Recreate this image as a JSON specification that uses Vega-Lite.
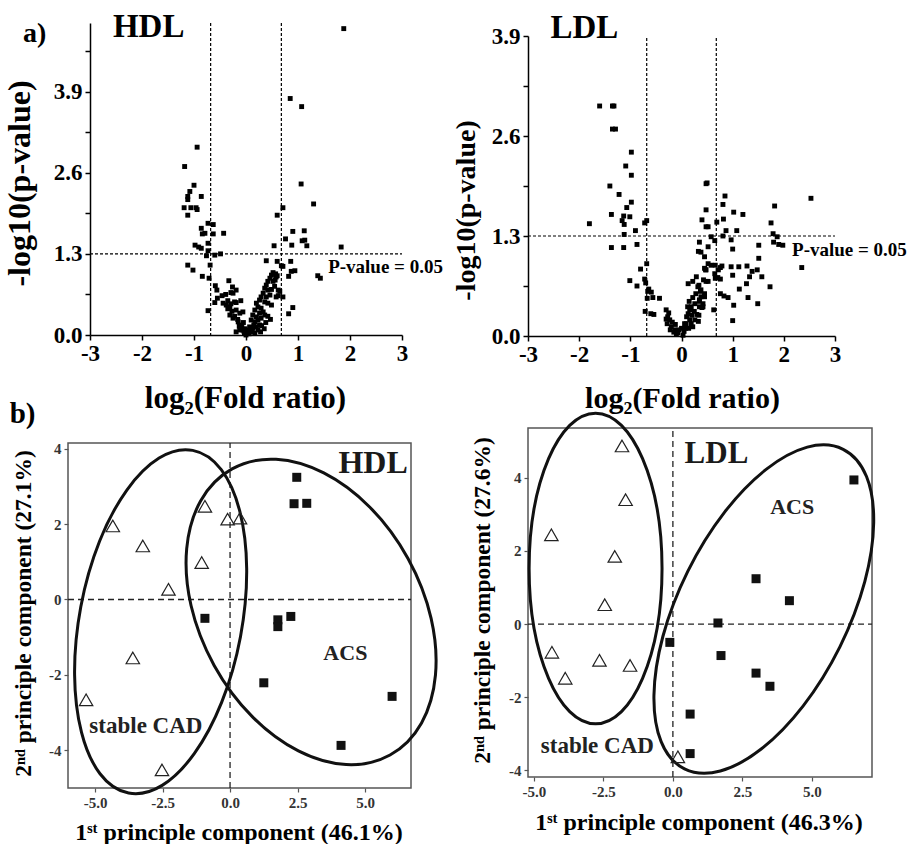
{
  "$schema": "https://vega.github.io/schema/vega-lite/v6.json",
  "padding": {"left": 3, "top": 10, "right": 0, "bottom": 0},
  "columns": 2,
  "align": "none",
  "bounds": "flush",
  "spacing": {"row": 108, "column": 126},
  "config": {
    "view": {"stroke": null},
    "font": "Liberation Serif",
    "axis": {"grid": false, "labelFont": "Liberation Serif", "titleFont": "Liberation Serif", "labelFontWeight": "bold", "titleFontWeight": "bold", "labelColor": "black", "titleColor": "black", "domainColor": "black", "tickColor": "black", "labelOverlap": false, "labelFlush": false},
    "text": {"font": "Liberation Serif", "fontWeight": "bold", "color": "black"}
  },
  "datasets": {
    "hdlV": [
      {"x":1.88,"y":4.91},{"x":0.85,"y":3.79},{"x":1.07,"y":3.66},{"x":-0.94,"y":3.01},{"x":-1.18,"y":2.70},{"x":1.06,"y":2.42},{"x":-1.0,"y":2.40},{"x":-1.08,"y":2.30},{"x":-1.12,"y":2.22},{"x":-1.12,"y":2.17},{"x":-0.86,"y":2.22},{"x":1.30,"y":2.10},{"x":-1.19,"y":2.04},{"x":-1.06,"y":2.04},{"x":-0.96,"y":2.04},{"x":-0.94,"y":2.01},{"x":-1.12,"y":1.92},{"x":0.71,"y":2.04},{"x":0.60,"y":1.92},{"x":-0.73,"y":1.79},{"x":-0.63,"y":1.77},{"x":-0.86,"y":1.71},{"x":-0.84,"y":1.62},{"x":-0.79,"y":1.63},{"x":-0.63,"y":1.62},{"x":-0.43,"y":1.63},{"x":0.90,"y":1.66},{"x":1.12,"y":1.67},{"x":0.76,"y":1.54},{"x":1.08,"y":1.51},{"x":1.13,"y":1.52},{"x":0.88,"y":1.44},{"x":1.17,"y":1.43},{"x":0.54,"y":1.43},{"x":1.83,"y":1.41},{"x":-0.73,"y":1.47},{"x":-0.98,"y":1.44},{"x":-0.91,"y":1.41},{"x":-0.86,"y":1.39},{"x":-0.73,"y":1.35},{"x":-0.49,"y":1.30},{"x":-0.60,"y":1.28},{"x":-0.76,"y":1.27},{"x":-1.12,"y":1.12},{"x":-1.02,"y":1.04},{"x":-0.69,"y":1.12},{"x":-0.84,"y":0.94},{"x":-0.71,"y":0.91},{"x":-0.33,"y":0.87},{"x":-0.59,"y":0.79},{"x":-0.56,"y":0.72},{"x":-0.55,"y":0.59},{"x":-0.60,"y":0.52},{"x":-0.73,"y":0.39},{"x":0.39,"y":1.19},{"x":0.60,"y":1.18},{"x":0.71,"y":1.10},{"x":0.68,"y":1.11},{"x":0.86,"y":1.18},{"x":0.87,"y":1.02},{"x":0.94,"y":1.03},{"x":0.82,"y":0.94},{"x":1.38,"y":0.95},{"x":1.43,"y":0.91},{"x":0.62,"y":0.63},{"x":0.90,"y":0.44},{"x":0.82,"y":0.34},
      {"x":-0.44,"y":0.51},{"x":-0.38,"y":0.48},{"x":-0.31,"y":0.45},{"x":-0.25,"y":0.67},{"x":-0.22,"y":0.53},{"x":-0.19,"y":0.40},{"x":-0.12,"y":0.35},{"x":-0.06,"y":0.37},{"x":-0.31,"y":0.32},{"x":-0.25,"y":0.27},{"x":-0.15,"y":0.21},{"x":-0.09,"y":0.16},{"x":-0.06,"y":0.08},{"x":-0.12,"y":0.08},{"x":-0.19,"y":0.05},{"x":-0.03,"y":0.03},{"x":0.0,"y":0.0},{"x":-0.35,"y":0.55},{"x":-0.29,"y":0.50},{"x":-0.19,"y":0.52},{"x":-0.10,"y":0.55},{"x":-0.46,"y":0.63},{"x":-0.39,"y":0.65},{"x":-0.29,"y":0.68},{"x":-0.26,"y":0.77},{"x":-0.19,"y":0.72},{"x":-0.22,"y":0.30},{"x":-0.16,"y":0.25},{"x":-0.08,"y":0.12},{"x":-0.04,"y":0.06},{"x":-0.02,"y":0.10},{"x":-0.13,"y":0.14},{"x":-0.27,"y":0.38},{"x":-0.35,"y":0.42},{"x":-0.05,"y":0.20},
      {"x":0.52,"y":1.00},{"x":0.49,"y":0.96},{"x":0.46,"y":0.91},{"x":0.42,"y":0.86},{"x":0.39,"y":0.80},{"x":0.36,"y":0.75},{"x":0.42,"y":0.72},{"x":0.49,"y":0.73},{"x":0.55,"y":0.78},{"x":0.52,"y":0.86},{"x":0.33,"y":0.67},{"x":0.29,"y":0.61},{"x":0.39,"y":0.61},{"x":0.46,"y":0.64},{"x":0.26,"y":0.56},{"x":0.20,"y":0.51},{"x":0.36,"y":0.53},{"x":0.42,"y":0.51},{"x":0.49,"y":0.48},{"x":0.23,"y":0.45},{"x":0.17,"y":0.40},{"x":0.29,"y":0.43},{"x":0.13,"y":0.32},{"x":0.20,"y":0.29},{"x":0.26,"y":0.35},{"x":0.33,"y":0.37},{"x":0.10,"y":0.24},{"x":0.17,"y":0.21},{"x":0.23,"y":0.24},{"x":0.29,"y":0.27},{"x":0.36,"y":0.32},{"x":0.07,"y":0.13},{"x":0.13,"y":0.11},{"x":0.20,"y":0.13},{"x":0.26,"y":0.16},{"x":0.10,"y":0.05},{"x":0.23,"y":0.08},{"x":0.17,"y":0.03},{"x":0.04,"y":0.08},{"x":0.47,"y":0.25},{"x":0.42,"y":0.30},{"x":0.38,"y":0.20},{"x":0.30,"y":0.15},{"x":0.35,"y":0.10},{"x":0.28,"y":0.05},{"x":0.57,"y":0.98},{"x":0.58,"y":0.93},{"x":0.56,"y":0.88},{"x":0.60,"y":0.95},{"x":0.62,"y":0.72},{"x":0.65,"y":0.70},{"x":0.58,"y":0.61},{"x":0.71,"y":0.61},{"x":0.06,"y":0.02},{"x":0.12,"y":0.06},{"x":0.15,"y":0.16},{"x":0.02,"y":0.04}
    ],
    "ldlV": [
      {"x":-1.60,"y":2.99},{"x":-1.35,"y":2.99},{"x":-1.32,"y":2.99},{"x":-1.35,"y":2.69},{"x":-1.29,"y":2.69},{"x":-0.98,"y":2.39},{"x":-1.09,"y":2.21},{"x":-0.98,"y":2.09},{"x":-1.40,"y":1.95},{"x":-1.22,"y":1.84},{"x":-0.98,"y":1.74},{"x":-1.07,"y":1.67},{"x":-1.37,"y":1.58},{"x":-1.13,"y":1.56},{"x":-1.01,"y":1.55},{"x":-1.80,"y":1.46},{"x":-1.16,"y":1.50},{"x":-1.12,"y":1.45},{"x":-0.68,"y":1.50},{"x":-0.72,"y":1.47},{"x":-0.90,"y":1.37},{"x":-1.12,"y":1.32},{"x":-1.37,"y":1.15},{"x":-1.13,"y":1.15},{"x":-0.87,"y":1.19},{"x":-0.68,"y":0.94},{"x":-0.80,"y":0.87},{"x":-1.01,"y":0.72},{"x":-0.72,"y":0.74},{"x":-0.70,"y":0.69},{"x":-0.87,"y":0.65},{"x":-0.64,"y":0.61},{"x":-0.66,"y":0.58},{"x":-0.59,"y":0.57},{"x":-0.56,"y":0.50},{"x":-0.67,"y":0.49},{"x":-0.43,"y":0.49},{"x":-0.71,"y":0.32},{"x":-0.60,"y":0.29},{"x":-0.54,"y":0.28},
      {"x":-0.30,"y":0.34},{"x":-0.27,"y":0.25},{"x":-0.23,"y":0.21},{"x":-0.28,"y":0.16},{"x":-0.20,"y":0.12},{"x":-0.13,"y":0.08},{"x":-0.07,"y":0.04},{"x":0.03,"y":0.01},{"x":0.0,"y":0.10},{"x":0.06,"y":0.16},{"x":-0.25,"y":0.30},{"x":-0.18,"y":0.18},{"x":-0.15,"y":0.05},{"x":-0.10,"y":0.02},{"x":-0.05,"y":0.08},{"x":-0.30,"y":0.22},{"x":-0.22,"y":0.08},{"x":0.05,"y":0.06},{"x":0.08,"y":0.10},{"x":-0.12,"y":0.15},
      {"x":0.13,"y":0.68},{"x":0.22,"y":0.71},{"x":0.29,"y":0.77},{"x":0.32,"y":0.64},{"x":0.38,"y":0.60},{"x":0.45,"y":0.51},{"x":0.35,"y":0.47},{"x":0.26,"y":0.42},{"x":0.19,"y":0.38},{"x":0.16,"y":0.34},{"x":0.13,"y":0.29},{"x":0.20,"y":0.27},{"x":0.16,"y":0.21},{"x":0.09,"y":0.16},{"x":0.19,"y":0.16},{"x":0.26,"y":0.21},{"x":0.35,"y":0.38},{"x":0.42,"y":0.38},{"x":0.48,"y":0.71},{"x":0.48,"y":0.86},{"x":0.45,"y":1.03},{"x":0.38,"y":1.09},{"x":0.35,"y":1.22},{"x":0.48,"y":1.42},{"x":0.40,"y":1.51},{"x":0.48,"y":1.64},{"x":0.48,"y":1.98},{"x":0.15,"y":0.45},{"x":0.22,"y":0.50},{"x":0.28,"y":0.55},{"x":0.12,"y":0.38},{"x":0.25,"y":0.32},{"x":0.30,"y":0.28},{"x":0.10,"y":0.25},{"x":0.22,"y":0.12},{"x":0.14,"y":0.10},
      {"x":0.50,"y":1.99},{"x":0.85,"y":1.82},{"x":0.81,"y":1.71},{"x":1.82,"y":1.69},{"x":2.53,"y":1.79},{"x":1.02,"y":1.61},{"x":1.20,"y":1.58},{"x":0.69,"y":1.48},{"x":0.82,"y":1.52},{"x":1.75,"y":1.47},{"x":0.52,"y":1.42},{"x":0.87,"y":1.37},{"x":1.08,"y":1.37},{"x":1.79,"y":1.33},{"x":1.87,"y":1.29},{"x":0.58,"y":1.29},{"x":0.81,"y":1.30},{"x":0.65,"y":1.24},{"x":0.97,"y":1.25},{"x":1.80,"y":1.22},{"x":1.90,"y":1.19},{"x":1.98,"y":1.18},{"x":1.51,"y":1.18},{"x":1.0,"y":1.13},{"x":0.52,"y":1.16},{"x":0.33,"y":1.10},{"x":1.51,"y":1.01},{"x":0.52,"y":0.94},{"x":0.58,"y":0.92},{"x":0.66,"y":0.92},{"x":0.79,"y":0.91},{"x":0.97,"y":0.90},{"x":1.12,"y":0.90},{"x":1.28,"y":0.91},{"x":0.45,"y":0.88},{"x":0.47,"y":0.86},{"x":0.72,"y":0.86},{"x":0.76,"y":0.89},{"x":2.35,"y":0.89},{"x":1.38,"y":0.84},{"x":1.48,"y":0.86},{"x":1.57,"y":0.77},{"x":1.0,"y":0.79},{"x":1.33,"y":0.77},{"x":0.65,"y":0.81},{"x":0.66,"y":0.75},{"x":0.71,"y":0.76},{"x":0.76,"y":0.74},{"x":0.43,"y":0.73},{"x":0.52,"y":0.71},{"x":1.27,"y":0.68},{"x":1.73,"y":0.64},{"x":0.34,"y":0.66},{"x":1.13,"y":0.61},{"x":0.37,"y":0.58},{"x":0.45,"y":0.55},{"x":0.38,"y":0.51},{"x":0.35,"y":0.45},{"x":0.42,"y":0.42},{"x":0.76,"y":0.55},{"x":0.83,"y":0.52},{"x":0.91,"y":0.50},{"x":1.30,"y":0.50},{"x":1.02,"y":0.40},{"x":1.49,"y":0.42},{"x":0.40,"y":0.37},{"x":0.63,"y":0.34},{"x":1.0,"y":0.20},{"x":0.34,"y":0.27},{"x":0.33,"y":0.19}
    ],
    "hdlP": [
      {"x":-4.34,"y":1.95,"g":"CAD"},{"x":-3.23,"y":1.42,"g":"CAD"},{"x":-2.28,"y":0.27,"g":"CAD"},{"x":-3.6,"y":-1.55,"g":"CAD"},{"x":-5.33,"y":-2.66,"g":"CAD"},{"x":-2.52,"y":-4.52,"g":"CAD"},{"x":-0.93,"y":2.47,"g":"CAD"},{"x":-1.05,"y":0.98,"g":"CAD"},{"x":-0.09,"y":2.13,"g":"CAD"},{"x":0.37,"y":2.16,"g":"CAD"},
      {"x":2.47,"y":3.24,"g":"ACS"},{"x":2.37,"y":2.54,"g":"ACS"},{"x":2.84,"y":2.55,"g":"ACS"},{"x":-0.93,"y":-0.5,"g":"ACS"},{"x":1.77,"y":-0.54,"g":"ACS"},{"x":1.77,"y":-0.72,"g":"ACS"},{"x":2.25,"y":-0.45,"g":"ACS"},{"x":1.25,"y":-2.21,"g":"ACS"},{"x":6.0,"y":-2.57,"g":"ACS"},{"x":4.11,"y":-3.87,"g":"ACS"}
    ],
    "ldlP": [
      {"x":-1.83,"y":4.87,"g":"CAD"},{"x":-1.70,"y":3.40,"g":"CAD"},{"x":-4.37,"y":2.44,"g":"CAD"},{"x":-2.09,"y":1.85,"g":"CAD"},{"x":-2.45,"y":0.53,"g":"CAD"},{"x":-4.35,"y":-0.77,"g":"CAD"},{"x":-2.64,"y":-0.99,"g":"CAD"},{"x":-1.54,"y":-1.13,"g":"CAD"},{"x":-3.87,"y":-1.48,"g":"CAD"},{"x":0.18,"y":-3.63,"g":"CAD"},
      {"x":6.51,"y":3.94,"g":"ACS"},{"x":2.99,"y":1.24,"g":"ACS"},{"x":4.19,"y":0.64,"g":"ACS"},{"x":1.62,"y":0.03,"g":"ACS"},{"x":-0.11,"y":-0.50,"g":"ACS"},{"x":1.73,"y":-0.86,"g":"ACS"},{"x":2.99,"y":-1.34,"g":"ACS"},{"x":3.49,"y":-1.70,"g":"ACS"},{"x":0.62,"y":-2.46,"g":"ACS"},{"x":0.62,"y":-3.54,"g":"ACS"}
    ]
  },
  "concat": [
    {
      "width": 334, "height": 312,
      "layer": [
        {
          "data": {"values": [{"x": -3, "x2": 3, "y": 1.3}]},
          "mark": {"type": "rule", "strokeDash": [3, 2], "strokeWidth": 1.2, "color": "black"},
          "encoding": {
            "x": {"field": "x", "type": "quantitative", "scale": {"domain": [-3, 3], "range": [22, 334], "nice": false, "zero": false},
              "axis": {"values": [-3,-2.5,-2,-1.5,-1,-0.5,0,0.5,1,1.5,2,2.5,3], "labelExpr": "datum.value % 1 == 0 ? '' + datum.value : ''", "title": "log₂(Fold ratio)", "titleFont": "Liberation Serif", "labelFont": "Liberation Serif", "titleFontSize": 31, "titleX": 177, "titleY": 72, "titleBaseline": "alphabetic", "labelFontSize": 23, "tickSize": 5, "tickWidth": 1.5, "domainWidth": 1.5, "labelPadding": 2}},
            "x2": {"field": "x2"},
            "y": {"field": "y", "type": "quantitative", "scale": {"domain": [0, 5], "nice": false, "zero": false},
              "axis": {"values": [0,0.65,1.3,1.95,2.6,3.25,3.9,4.55], "labelExpr": "round(datum.value*100) % 130 == 0 ? format(datum.value, '.1f') : ''", "offset": -22, "title": "-log10(p-value)", "titleFont": "Liberation Serif", "labelFont": "Liberation Serif", "titleFontSize": 32, "titleX": -61, "titleY": 160, "titleBaseline": "alphabetic", "labelFontSize": 23, "tickSize": 5, "tickWidth": 1.5, "domainWidth": 1.5, "labelPadding": 3}}
          }
        },
        {
          "data": {"values": [{"x": -0.68}, {"x": 0.68}]},
          "mark": {"type": "rule", "strokeDash": [3, 2], "strokeWidth": 1.2, "color": "black"},
          "encoding": {"x": {"field": "x", "type": "quantitative"}}
        },
        {
          "data": {"name": "hdlV"},
          "mark": {"type": "point", "shape": "square", "filled": true, "color": "black", "size": 24, "opacity": 1},
          "encoding": {"x": {"field": "x", "type": "quantitative"}, "y": {"field": "y", "type": "quantitative"}}
        },
        {
          "data": {"values": [{"x": 1.58, "y": 1.0, "t": "P-value = 0.05"}]},
          "mark": {"type": "text", "fontSize": 19, "align": "left", "baseline": "alphabetic"},
          "encoding": {"x": {"field": "x", "type": "quantitative"}, "y": {"field": "y", "type": "quantitative"}, "text": {"field": "t"}}
        },
        {
          "data": {"values": [{"x": -2.56, "y": 4.78, "t": "HDL"}]},
          "mark": {"type": "text", "fontSize": 33, "align": "left", "baseline": "alphabetic"},
          "encoding": {"x": {"field": "x", "type": "quantitative"}, "y": {"field": "y", "type": "quantitative"}, "text": {"field": "t"}}
        },
        {
          "data": {"values": [{"x": -4.29, "y": 4.70, "t": "a)"}]},
          "mark": {"type": "text", "fontSize": 28, "align": "left", "baseline": "alphabetic"},
          "encoding": {"x": {"field": "x", "type": "quantitative"}, "y": {"field": "y", "type": "quantitative"}, "text": {"field": "t"}}
        }
      ]
    },
    {
      "width": 307, "height": 297,
      "layer": [
        {
          "data": {"values": [{"x": -3, "x2": 3, "y": 1.3}]},
          "mark": {"type": "rule", "strokeDash": [3, 2], "strokeWidth": 1.2, "color": "black"},
          "encoding": {
            "x": {"field": "x", "type": "quantitative", "scale": {"domain": [-3, 3], "nice": false, "zero": false},
              "axis": {"values": [-3,-2.5,-2,-1.5,-1,-0.5,0,0.5,1,1.5,2,2.5,3], "labelExpr": "datum.value % 1 == 0 ? '' + datum.value : ''", "offset": 16, "title": "log₂(Fold ratio)", "titleFont": "Liberation Serif", "labelFont": "Liberation Serif", "titleFontSize": 30, "titleX": 154, "titleY": 71, "titleBaseline": "alphabetic", "labelFontSize": 23, "tickSize": 5, "tickWidth": 1.5, "domainWidth": 1.5, "labelPadding": 2}},
            "x2": {"field": "x2"},
            "y": {"field": "y", "type": "quantitative", "scale": {"domain": [0, 3.9], "range": [313, 13], "nice": false, "zero": false},
              "axis": {"values": [0,0.65,1.3,1.95,2.6,3.25,3.9], "labelExpr": "round(datum.value*100) % 130 == 0 ? format(datum.value, '.1f') : ''", "title": "-log10(p-value)", "titleFont": "Liberation Serif", "labelFont": "Liberation Serif", "titleFontSize": 28, "titleX": -54, "titleY": 187, "titleBaseline": "alphabetic", "labelFontSize": 23, "tickSize": 5, "tickWidth": 1.5, "domainWidth": 1.5, "labelPadding": 3}}
          }
        },
        {
          "data": {"values": [{"x": -0.68, "y": 0, "y2": 3.9}, {"x": 0.68, "y": 0, "y2": 3.9}]},
          "mark": {"type": "rule", "strokeDash": [3, 2], "strokeWidth": 1.2, "color": "black"},
          "encoding": {"x": {"field": "x", "type": "quantitative"}, "y": {"field": "y", "type": "quantitative"}, "y2": {"field": "y2"}}
        },
        {
          "data": {"name": "ldlV"},
          "mark": {"type": "point", "shape": "square", "filled": true, "color": "black", "size": 24, "opacity": 1},
          "encoding": {"x": {"field": "x", "type": "quantitative"}, "y": {"field": "y", "type": "quantitative"}}
        },
        {
          "data": {"values": [{"x": 2.16, "y": 1.04, "t": "P-value = 0.05"}]},
          "mark": {"type": "text", "fontSize": 19, "align": "left", "baseline": "alphabetic"},
          "encoding": {"x": {"field": "x", "type": "quantitative"}, "y": {"field": "y", "type": "quantitative"}, "text": {"field": "t"}}
        },
        {
          "data": {"values": [{"x": -2.56, "y": 3.87, "t": "LDL"}]},
          "mark": {"type": "text", "fontSize": 33, "align": "left", "baseline": "alphabetic"},
          "encoding": {"x": {"field": "x", "type": "quantitative"}, "y": {"field": "y", "type": "quantitative"}, "text": {"field": "t"}}
        }
      ]
    },
    {
      "width": 330, "height": 345,
      "layer": [
        {
          "data": {"values": [{"x": -6, "x2": 6.7, "y": -5, "y2": 4.15}]},
          "mark": {"type": "rect", "fill": "transparent", "stroke": "#555555", "strokeWidth": 1.5},
          "encoding": {
            "x": {"field": "x", "type": "quantitative", "scale": {"domain": [-6, 6.7], "range": [0, 343], "nice": false, "zero": false},
              "axis": {"values": [-5, -2.5, 0, 2.5, 5], "labelExpr": "datum.value % 1 == 0 ? datum.value + '.0' : '' + datum.value", "domain": false, "title": "1ˢᵗ principle component (46.1%)", "titleFont": "Liberation Serif", "labelFont": "Liberation Serif", "titleFontSize": 24, "titleX": 170.5, "titleY": 51, "titleBaseline": "alphabetic", "labelFontSize": 15, "labelColor": "#333333", "tickColor": "#555555", "tickSize": 4, "tickWidth": 1.2, "labelPadding": 3}},
            "x2": {"field": "x2"},
            "y": {"field": "y", "type": "quantitative", "scale": {"domain": [-5, 4.15], "nice": false, "zero": false},
              "axis": {"values": [-4, -2, 0, 2, 4], "labelExpr": "'' + datum.value", "domain": false, "title": "2ⁿᵈ principle component (27.1%)", "titleFont": "Liberation Serif", "labelFont": "Liberation Serif", "titleFontSize": 23.5, "titleX": -38, "titleY": 170, "titleBaseline": "alphabetic", "labelFontSize": 15, "labelColor": "#333333", "tickColor": "#555555", "tickSize": 4, "tickWidth": 1.2, "labelPadding": 3}},
            "y2": {"field": "y2"}
          }
        },
        {
          "data": {"values": [{"x": 0, "y": -5, "y2": 4.15}]},
          "mark": {"type": "rule", "strokeDash": [6, 4], "strokeWidth": 1.3, "color": "#222222"},
          "encoding": {"x": {"field": "x", "type": "quantitative"}, "y": {"field": "y", "type": "quantitative"}, "y2": {"field": "y2"}}
        },
        {
          "data": {"values": [{"x": -6, "x2": 6.7, "y": 0}]},
          "mark": {"type": "rule", "strokeDash": [6, 4], "strokeWidth": 1.3, "color": "#222222"},
          "encoding": {"x": {"field": "x", "type": "quantitative"}, "x2": {"field": "x2"}, "y": {"field": "y", "type": "quantitative"}}
        },
        {
          "data": {"values": [{"x": -2.57, "y": -0.59}]},
          "mark": {"type": "point", "shape": "M 0 -1 C 0.2574 -1 0.466 -0.5523 0.466 0 C 0.466 0.5523 0.2574 1 0 1 C -0.2574 1 -0.466 0.5523 -0.466 0 C -0.466 -0.5523 -0.2574 -1 0 -1 Z", "size": 121522, "angle": 10.6, "filled": false, "stroke": "#111111", "strokeWidth": 3, "opacity": 1},
          "encoding": {"x": {"field": "x", "type": "quantitative"}, "y": {"field": "y", "type": "quantitative"}}
        },
        {
          "data": {"values": [{"x": 3.0, "y": -0.33}]},
          "mark": {"type": "point", "shape": "M 0 -1 C 0.3742 -1 0.6775 -0.5523 0.6775 0 C 0.6775 0.5523 0.3742 1 0 1 C -0.3742 1 -0.6775 0.5523 -0.6775 0 C -0.6775 -0.5523 -0.3742 -1 0 -1 Z", "size": 106798, "angle": 331.1, "filled": false, "stroke": "#111111", "strokeWidth": 3, "opacity": 1},
          "encoding": {"x": {"field": "x", "type": "quantitative"}, "y": {"field": "y", "type": "quantitative"}}
        },
        {
          "data": {"name": "hdlP"},
          "transform": [{"filter": "datum.g == 'CAD'"}],
          "mark": {"type": "point", "shape": "triangle-up", "filled": false, "stroke": "#222222", "strokeWidth": 1.2, "size": 180, "opacity": 1},
          "encoding": {"x": {"field": "x", "type": "quantitative"}, "y": {"field": "y", "type": "quantitative"}}
        },
        {
          "data": {"name": "hdlP"},
          "transform": [{"filter": "datum.g == 'ACS'"}],
          "mark": {"type": "point", "shape": "square", "filled": true, "color": "#111111", "size": 81, "opacity": 1},
          "encoding": {"x": {"field": "x", "type": "quantitative"}, "y": {"field": "y", "type": "quantitative"}}
        },
        {
          "data": {"values": [{"x": 6.58, "y": 3.36, "t": "HDL"}]},
          "mark": {"type": "text", "fontSize": 32, "align": "right", "baseline": "alphabetic", "color": "#1a1a1a"},
          "encoding": {"x": {"field": "x", "type": "quantitative"}, "y": {"field": "y", "type": "quantitative"}, "text": {"field": "t"}}
        },
        {
          "data": {"values": [{"x": 4.27, "y": -1.6, "t": "ACS"}]},
          "mark": {"type": "text", "fontSize": 22, "align": "center", "baseline": "alphabetic", "color": "#222222"},
          "encoding": {"x": {"field": "x", "type": "quantitative"}, "y": {"field": "y", "type": "quantitative"}, "text": {"field": "t"}}
        },
        {
          "data": {"values": [{"x": -5.21, "y": -3.54, "t": "stable CAD"}]},
          "mark": {"type": "text", "fontSize": 23, "align": "left", "baseline": "alphabetic", "color": "#222222"},
          "encoding": {"x": {"field": "x", "type": "quantitative"}, "y": {"field": "y", "type": "quantitative"}, "text": {"field": "t"}}
        },
        {
          "data": {"values": [{"x": -8.16, "y": 4.69, "t": "b)"}]},
          "mark": {"type": "text", "fontSize": 29, "align": "left", "baseline": "alphabetic"},
          "encoding": {"x": {"field": "x", "type": "quantitative"}, "y": {"field": "y", "type": "quantitative"}, "text": {"field": "t"}}
        }
      ]
    },
    {
      "width": 344, "height": 334,
      "layer": [
        {
          "data": {"values": [{"x": -5.21, "x2": 7.16, "y": -4.18, "y2": 5.36}]},
          "mark": {"type": "rect", "fill": "transparent", "stroke": "#555555", "strokeWidth": 1.5},
          "encoding": {
            "x": {"field": "x", "type": "quantitative", "scale": {"domain": [-5.21, 7.16], "nice": false, "zero": false},
              "axis": {"values": [-5, -2.5, 0, 2.5, 5], "labelExpr": "datum.value % 1 == 0 ? datum.value + '.0' : '' + datum.value", "domain": false, "title": "1ˢᵗ principle component (46.3%)", "titleFont": "Liberation Serif", "labelFont": "Liberation Serif", "titleFontSize": 24, "titleX": 170.5, "titleY": 52, "titleBaseline": "alphabetic", "labelFontSize": 15, "labelColor": "#333333", "tickColor": "#555555", "tickSize": 4, "tickWidth": 1.2, "labelPadding": 3}},
            "x2": {"field": "x2"},
            "y": {"field": "y", "type": "quantitative", "scale": {"domain": [-4.18, 5.36], "range": [334, -15], "nice": false, "zero": false},
              "axis": {"values": [-4, -2, 0, 2, 4], "labelExpr": "'' + datum.value", "domain": false, "title": "2ⁿᵈ principle component (27.6%)", "titleFont": "Liberation Serif", "labelFont": "Liberation Serif", "titleFontSize": 23.5, "titleX": -39, "titleY": 157, "titleBaseline": "alphabetic", "labelFontSize": 15, "labelColor": "#333333", "tickColor": "#555555", "tickSize": 4, "tickWidth": 1.2, "labelPadding": 3}},
            "y2": {"field": "y2"}
          }
        },
        {
          "data": {"values": [{"x": 0, "y": -4.18, "y2": 5.36}]},
          "mark": {"type": "rule", "strokeDash": [6, 4], "strokeWidth": 1.3, "color": "#222222"},
          "encoding": {"x": {"field": "x", "type": "quantitative"}, "y": {"field": "y", "type": "quantitative"}, "y2": {"field": "y2"}}
        },
        {
          "data": {"values": [{"x": -5.21, "x2": 7.16, "y": 0}]},
          "mark": {"type": "rule", "strokeDash": [6, 4], "strokeWidth": 1.3, "color": "#222222"},
          "encoding": {"x": {"field": "x", "type": "quantitative"}, "x2": {"field": "x2"}, "y": {"field": "y", "type": "quantitative"}}
        },
        {
          "data": {"values": [{"x": -2.78, "y": 1.52}]},
          "mark": {"type": "point", "shape": "M 0 -1 C 0.2364 -1 0.428 -0.5523 0.428 0 C 0.428 0.5523 0.2364 1 0 1 C -0.2364 1 -0.428 0.5523 -0.428 0 C -0.428 -0.5523 -0.2364 -1 0 -1 Z", "size": 96472, "angle": 0, "filled": false, "stroke": "#111111", "strokeWidth": 3, "opacity": 1},
          "encoding": {"x": {"field": "x", "type": "quantitative"}, "y": {"field": "y", "type": "quantitative"}}
        },
        {
          "data": {"values": [{"x": 3.27, "y": 0.41}]},
          "mark": {"type": "point", "shape": "M 0 -1 C 0.2629 -1 0.476 -0.5523 0.476 0 C 0.476 0.5523 0.2629 1 0 1 C -0.2629 1 -0.476 0.5523 -0.476 0 C -0.476 -0.5523 -0.2629 -1 0 -1 Z", "size": 127306, "angle": 26.4, "filled": false, "stroke": "#111111", "strokeWidth": 3, "opacity": 1},
          "encoding": {"x": {"field": "x", "type": "quantitative"}, "y": {"field": "y", "type": "quantitative"}}
        },
        {
          "data": {"name": "ldlP"},
          "transform": [{"filter": "datum.g == 'CAD'"}],
          "mark": {"type": "point", "shape": "triangle-up", "filled": false, "stroke": "#222222", "strokeWidth": 1.2, "size": 180, "opacity": 1},
          "encoding": {"x": {"field": "x", "type": "quantitative"}, "y": {"field": "y", "type": "quantitative"}}
        },
        {
          "data": {"name": "ldlP"},
          "transform": [{"filter": "datum.g == 'ACS'"}],
          "mark": {"type": "point", "shape": "square", "filled": true, "color": "#111111", "size": 81, "opacity": 1},
          "encoding": {"x": {"field": "x", "type": "quantitative"}, "y": {"field": "y", "type": "quantitative"}}
        },
        {
          "data": {"values": [{"x": 0.42, "y": 4.40, "t": "LDL"}]},
          "mark": {"type": "text", "fontSize": 31, "align": "left", "baseline": "alphabetic", "color": "#1a1a1a"},
          "encoding": {"x": {"field": "x", "type": "quantitative"}, "y": {"field": "y", "type": "quantitative"}, "text": {"field": "t"}}
        },
        {
          "data": {"values": [{"x": 4.29, "y": 3.0, "t": "ACS"}]},
          "mark": {"type": "text", "fontSize": 22, "align": "center", "baseline": "alphabetic", "color": "#222222"},
          "encoding": {"x": {"field": "x", "type": "quantitative"}, "y": {"field": "y", "type": "quantitative"}, "text": {"field": "t"}}
        },
        {
          "data": {"values": [{"x": -4.75, "y": -3.52, "t": "stable CAD"}]},
          "mark": {"type": "text", "fontSize": 23, "align": "left", "baseline": "alphabetic", "color": "#222222"},
          "encoding": {"x": {"field": "x", "type": "quantitative"}, "y": {"field": "y", "type": "quantitative"}, "text": {"field": "t"}}
        }
      ]
    }
  ]
}
